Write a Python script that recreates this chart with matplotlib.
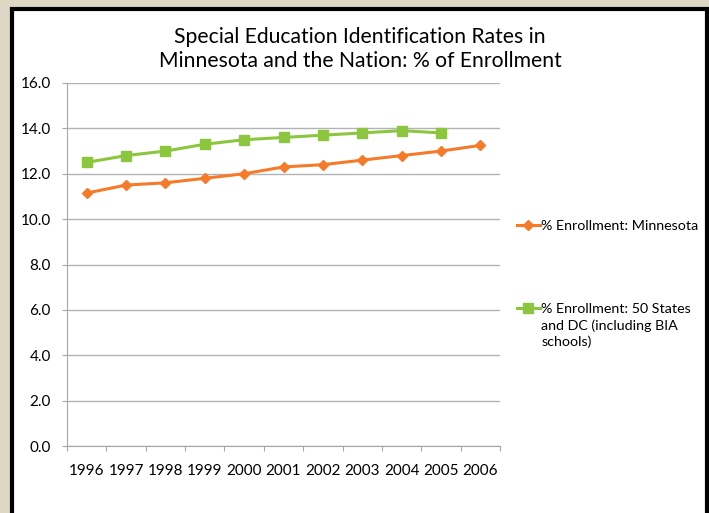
import numpy as np
import matplotlib.pyplot as plt
from matplotlib.patches import Rectangle

plt.rcParams['font.family'] = ['Lato', 'DejaVu Sans']

years = ['1996', '1997', '1998', '1999', '2000', '2001', '2002', '2003', '2004', '2005', '2006']
minnesota = [11.15, 11.5, 11.6, 11.8, 12.0, 12.3, 12.4, 12.6, 12.8, 13.0, 13.25]
nation = [12.5, 12.8, 13.0, 13.3, 13.5, 13.6, 13.7, 13.8, 13.9, 13.8, np.nan]
yticks = np.arange(0, 16.1, 2)

orange = '#f57a2a'
green = '#8cc63f'

fig = plt.figure(figsize=(7.09, 5.13), dpi=100)
fig.patch.set_facecolor('#ded7c6')
# white slide panel with dark border
fig.patches.append(Rectangle((12/709, -0.05), 695/709, 1.05 - 9/513, transform=fig.transFigure,
                             facecolor='white', edgecolor='black', linewidth=3, zorder=-5))

ax = fig.add_axes([67/709, (513-446)/513, 433/709, (446-83)/513])
ax.set_zorder(2)
ax.set_facecolor('white')
x = np.arange(len(years))
l1, = ax.plot(x, minnesota, color=orange, lw=2.2, marker='D', ms=5, label='% Enrollment: Minnesota', clip_on=False)
l2, = ax.plot(x, nation, color=green, lw=2.2, marker='s', ms=6.5,
              label='% Enrollment: 50 States\nand DC (including BIA\nschools)', clip_on=False)

ax.set_xlim(-0.5, len(years) - 0.5)
ax.set_ylim(0, 16)
ax.set_yticks(yticks)
ax.set_yticklabels([f'{v:.1f}' for v in yticks])
ax.set_xticks(np.arange(-0.5, len(years), 1.0))
ax.set_xticklabels([])
ax.set_xticks(x, minor=True)
ax.set_xticklabels(years, minor=True)
ax.tick_params(axis='x', which='major', length=3.6, color='#a6a6a6', direction='out')
ax.tick_params(axis='x', which='minor', length=0, labelsize=11, pad=13)
ax.tick_params(axis='y', length=3.6, color='#a6a6a6', labelsize=11, pad=8)
ax.grid(axis='y', color='#b3b3b3', lw=1)
ax.set_axisbelow(True)
for s in ['top', 'right']:
    ax.spines[s].set_visible(False)
for s in ['left', 'bottom']:
    ax.spines[s].set_color('#a6a6a6')

fig.text(360/709, 1 - 27/513, 'Special Education Identification Rates in\nMinnesota and the Nation: % of Enrollment',
         ha='center', va='top', fontsize=15.2, linespacing=1.25)

leg = fig.legend(handles=[l1, l2], loc='upper left', bbox_to_anchor=(504/709, 1 - 207/513),
                 frameon=False, fontsize=10.3, handlelength=1.6, handletextpad=0.1,
                 labelspacing=5.0)
leg.set_zorder(3)
for t in leg.get_texts():
    t.set_linespacing(1.35)
# put the marker level with the first line of a multi-line label
for col in leg._legend_handle_box.get_children():
    for row in col.get_children():
        row.align = 'top'

fig.savefig('out.png', dpi=100, facecolor=fig.get_facecolor())
